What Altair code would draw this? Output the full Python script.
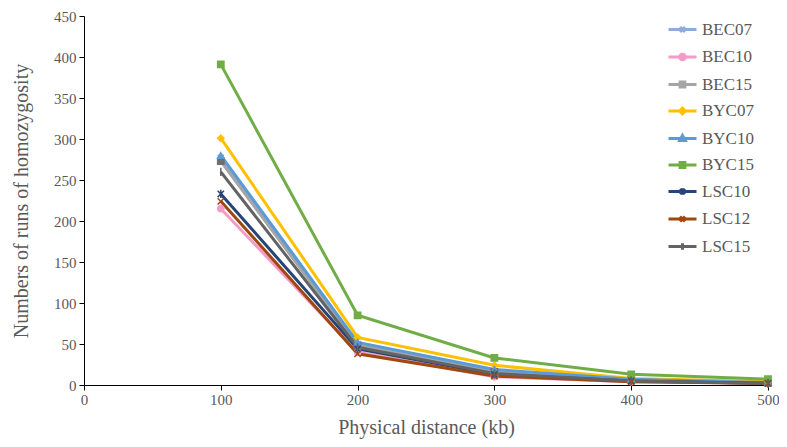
import altair as alt
import pandas as pd

distances = [100, 200, 300, 400, 500]
series_names = ["BEC07", "BEC10", "BEC15", "BYC07", "BYC10", "BYC15", "LSC10", "LSC12", "LSC15"]
values = {
    "BEC07": [277, 50, 17, 6, 3],
    "BEC10": [215, 40, 10, 4, 2],
    "BEC15": [273, 48, 16, 6, 3],
    "BYC07": [301, 58, 24, 8, 4],
    "BYC10": [280, 52, 19, 7, 3],
    "BYC15": [391, 85, 33, 13, 7],
    "LSC10": [233, 44, 13, 5, 2],
    "LSC12": [224, 38, 11, 4, 2],
    "LSC15": [260, 46, 14, 5, 2],
}
colors = ["#8FAADC", "#F59AC9", "#6F6F6F", "#FFC000", "#5B9BD5", "#70AD47", "#264478", "#9E480E", "#636363"]
line_colors = ["#8FAADC", "#F59AC9", "#A5A5A5", "#FFC000", "#5B9BD5", "#70AD47", "#264478", "#9E480E", "#636363"]

XP = "M-1,-1L1,1M-1,1L1,-1"
AST = "M-1,-1L1,1M-1,1L1,-1M0,-1.3V1.3"
PLUS = "M0,-1.3V1.3"
shapes = [XP, "circle", "square", "diamond", "triangle-up", "square", AST, XP, PLUS]

L = "M-1,0H1"
legend_paths = [
    L + "M-0.18,-0.18L0.18,0.18M-0.18,0.18L0.18,-0.18",
    L + "M-0.2,0A0.2,0.2,0,1,1,0.2,0A0.2,0.2,0,1,1,-0.2,0Z",
    L + "M-0.17,-0.17H0.17V0.17H-0.17Z",
    L + "M0,-0.2L0.2,0L0,0.2L-0.2,0Z",
    L + "M0,-0.22L0.2,0.14H-0.2Z",
    L + "M-0.17,-0.17H0.17V0.17H-0.17Z",
    L + "M-0.18,-0.18L0.18,0.18M-0.18,0.18L0.18,-0.18M0,-0.24V0.24",
    L + "M-0.18,-0.18L0.18,0.18M-0.18,0.18L0.18,-0.18",
    L + "M0,-0.24V0.24",
]

rows = []
for s in series_names:
    for d, v in zip(distances, values[s]):
        rows.append({"series": s, "distance": d, "count": v})
df = pd.DataFrame(rows)

FONT = "Liberation Serif"
GREY = "#595959"

legend = alt.Legend(
    title=None,
    orient="none",
    legendX=583,
    legendY=-2,
    labelFont=FONT,
    labelFontSize=17,
    labelColor=GREY,
    symbolSize=784,
    symbolStrokeWidth=3,
    symbolOpacity=1,
    rowPadding=2.5,
    labelOffset=4,
)

x = alt.X(
    "distance:Q",
    scale=alt.Scale(domain=[0, 500], nice=False),
    axis=alt.Axis(
        values=[0, 100, 200, 300, 400, 500],
        grid=False,
        title="Physical distance (kb)",
        titleFont=FONT,
        titleFontSize=20,
        titleFontWeight="normal",
        titleColor=GREY,
        titlePadding=10,
        labelFont=FONT,
        labelFontSize=15,
        labelColor=GREY,
        labelPadding=2,
        tickSize=5,
        tickColor="#000000",
        domainColor="#000000",
        labelFlush=False,
    ),
)
y = alt.Y(
    "count:Q",
    scale=alt.Scale(domain=[0, 450], nice=False),
    axis=alt.Axis(
        values=list(range(0, 451, 50)),
        grid=False,
        title="Numbers of runs of homozygosity",
        titleFont=FONT,
        titleFontSize=20,
        titleFontWeight="normal",
        titleColor=GREY,
        titlePadding=22,
        labelFont=FONT,
        labelFontSize=15,
        labelColor=GREY,
        labelPadding=3,
        tickSize=5,
        tickColor="#000000",
        domainColor="#000000",
        labelFlush=False,
    ),
)
color_scale = alt.Scale(domain=series_names, range=line_colors)

lines = alt.Chart(df).mark_line(strokeWidth=3).encode(
    x=x, y=y,
    color=alt.Color("series:N", scale=color_scale, legend=legend),
    detail="series:N",
)

point_layers = []
for name, shp, col in zip(series_names, shapes, colors):
    point_layers.append(
        alt.Chart(df).transform_filter(alt.datum.series == name).mark_point(
            filled=True, size=40, strokeWidth=1.5, opacity=1, shape=shp,
            color=col, stroke=col,
        ).encode(x=x, y=y)
    )

legend_layer = alt.Chart(df).mark_point(
    filled=True, opacity=0
).encode(
    x=x, y=y,
    color=alt.Color("series:N", scale=color_scale, legend=legend),
    stroke=alt.Stroke("series:N", scale=color_scale, legend=legend),
    shape=alt.Shape("series:N", scale=alt.Scale(domain=series_names, range=legend_paths), legend=legend),
)

chart = alt.layer(lines, *point_layers, legend_layer).properties(
    width=684,
    height=369,
    background="white",
    autosize=alt.AutoSizeParams(type="none"),
    padding={"left": 76, "top": 8, "right": 11, "bottom": 62},
).configure_view(stroke=None)

chart.save("out.html", embed_options={"renderer": "svg", "actions": False})
